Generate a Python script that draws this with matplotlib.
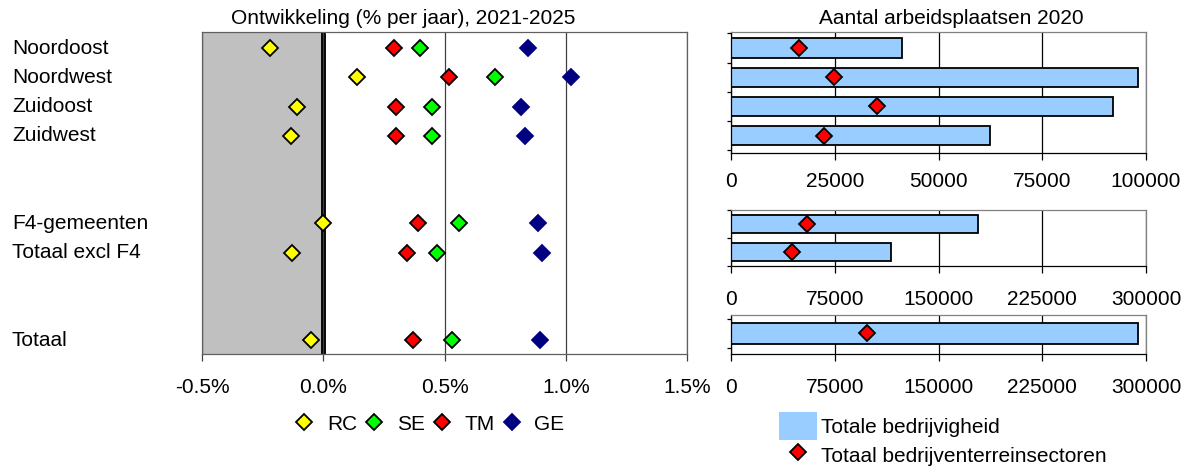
import matplotlib.pyplot as plt
from matplotlib.lines import Line2D
from matplotlib.patches import Patch
from matplotlib.transforms import blended_transform_factory

plt.rcParams["font.family"] = ["Liberation Sans", "DejaVu Sans"]
plt.rcParams["font.size"] = 15

# Regions (rows of the chart)
regions = ["Noordoost", "Noordwest", "Zuidoost", "Zuidwest",
           "F4-gemeenten", "Totaal excl F4", "Totaal"]

# Growth per year 2021-2025 (%) per scenario
rc = [-0.22, 0.14, -0.11, -0.135, 0.0, -0.13, -0.05]
se = [0.40, 0.71, 0.45, 0.45, 0.56, 0.47, 0.53]
tm = [0.29, 0.52, 0.30, 0.30, 0.39, 0.345, 0.37]
ge = [0.845, 1.02, 0.815, 0.83, 0.885, 0.90, 0.895]

# Jobs 2020
banen_totaal = [41300, 98100, 92000, 62500, 178800, 115700, 294200]
banen_bt = [16500, 24800, 35300, 22500, 54700, 43900, 98500]

fig = plt.figure(figsize=(11.89, 4.66), dpi=100)
W, H = 1189, 466


def px_axes(x0, y0, x1, y1):
    # axes from pixel box (top-left origin)
    return fig.add_axes([x0 / W, 1 - y1 / H, (x1 - x0) / W, (y1 - y0) / H])


# ---------- left panel: growth scenarios ----------
ax = px_axes(202, 32, 687, 354)
rows = [0, 1, 2, 3, 6, 7, 10]

ax.axvspan(-0.5, 0, color="#C0C0C0", zorder=0)
ax.axvline(0, color="black", lw=3.5, zorder=1)

series = [(rc, "#FFFF00", "black", "RC"), (se, "#00FF00", "black", "SE"),
          (tm, "#FF0000", "black", "TM"), (ge, "#000080", "#000080", "GE")]
handles = []
for vals, fc, ec, lab in series:
    h, = ax.plot(vals, rows, ls="none", marker="D", ms=8, mfc=fc, mec=ec,
                 mew=1.3, zorder=3, label=lab)
    handles.append(h)

ax.set_xlim(-0.5, 1.5)
ax.set_ylim(10.47, -0.55)
ax.set_xticks([-0.5, 0, 0.5, 1.0, 1.5])
ax.set_xticklabels(["-0.5%", "0.0%", "0.5%", "1.0%", "1.5%"])
ax.set_yticks([])
ax.grid(axis="x", color="#404040", lw=0.9, zorder=0.5)
ax.tick_params(axis="x", length=5, width=0.9, color="#404040", pad=12)
for s in ax.spines.values():
    s.set_color("#606060")
    s.set_linewidth(0.9)

# row labels, left aligned at the figure edge
tr = blended_transform_factory(fig.transFigure, ax.transData)
for r, name in zip(rows, regions):
    ax.text(12 / W, r, name, transform=tr, ha="left", va="center")

fig.text(403 / W, 1 - 18 / H, "Ontwikkeling (% per jaar), 2021-2025",
         ha="center", va="center")

fig.legend(handles=handles, loc="center left", bbox_to_anchor=(294 / W, 1 - 424 / H),
           ncol=4, frameon=False, handlelength=1.0, handletextpad=0.6,
           columnspacing=0.3, borderpad=0, borderaxespad=0)

# ---------- right panels: jobs 2020 ----------
groups = [([0, 1, 2, 3], (32, 153), 100000, 25000, (3.6, -0.55), 0.66, 9),
          ([4, 5], (210, 266), 300000, 75000, (1.5, -0.47), 0.66, 12),
          ([6], (315, 354), 300000, 75000, (0.7, -0.63), 0.73, 12)]

for idx, (y0, y1), xmax, step, ylim, bh, pad in groups:
    bx = px_axes(731, y0, 1146, y1)
    pos = list(range(len(idx)))
    bx.barh(pos, [banen_totaal[i] for i in idx], height=bh, color="#99CCFF",
            edgecolor="black", lw=1.3, zorder=2)
    bx.plot([banen_bt[i] for i in idx], pos, ls="none", marker="D", ms=8,
            mfc="#FF0000", mec="black", mew=1.3, zorder=3)
    bx.set_xlim(0, xmax)
    bx.set_ylim(*ylim)
    bx.set_xticks(range(0, xmax + 1, step))
    bx.set_xticklabels([str(v) for v in range(0, xmax + 1, step)])
    bx.set_yticks([p + 0.5 for p in [-1] + pos])
    bx.set_yticklabels([])
    bx.tick_params(axis="y", length=3, width=0.9)
    bx.tick_params(axis="x", length=5, width=0.9, pad=pad)
    bx.grid(axis="x", color="black", lw=0.9, zorder=0)
    bx.spines["top"].set_color("#808080")
    bx.spines["right"].set_color("#808080")
    for s in bx.spines.values():
        s.set_linewidth(0.9)

fig.text(951 / W, 1 - 18 / H, "Aantal arbeidsplaatsen 2020", ha="center", va="center")

leg_handles = [Patch(facecolor="#99CCFF", edgecolor="none"),
               Line2D([], [], ls="none", marker="D", ms=8, mfc="#FF0000",
                      mec="black", mew=1.3)]
fig.legend(leg_handles, ["Totale bedrijvigheid", "Totaal bedrijventerreinsectoren"],
           loc="upper left", bbox_to_anchor=(779 / W, 1 - 412 / H), frameon=False,
           handlelength=1.8, handleheight=1.7, handletextpad=0.2, labelspacing=0.05,
           borderpad=0, borderaxespad=0)

plt.savefig("out.png", dpi=100)
